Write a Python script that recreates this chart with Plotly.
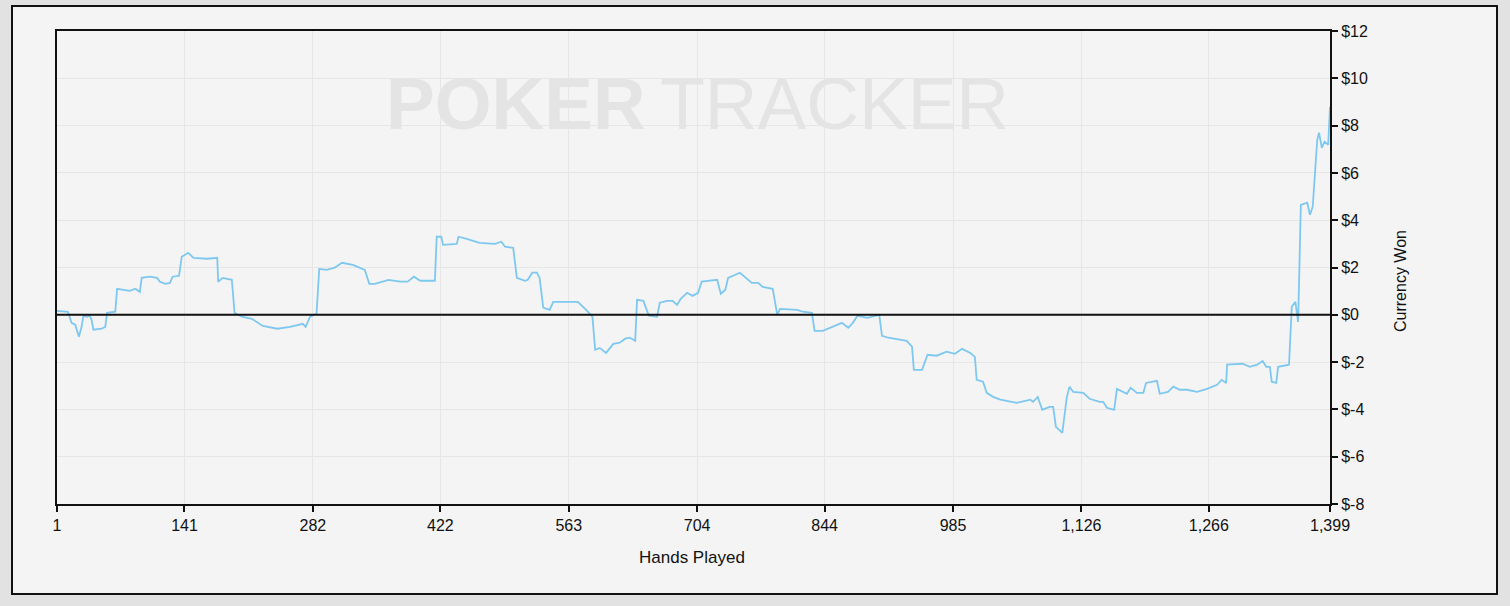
import plotly.graph_objects as go

hands = [1, 13, 17, 21, 25, 28, 30, 34, 37, 39, 41, 50, 54, 56, 65, 67, 81, 87, 92, 94,
         103, 111, 114, 120, 125, 128, 135, 138, 145, 151, 166, 177, 178, 183, 193, 196, 204, 215, 227, 243,
         257, 271, 274, 279, 286, 289, 297, 306, 314, 326, 339, 344, 350, 365, 378, 386, 393, 400, 416, 418,
         423, 425, 440, 442, 451, 465, 482, 489, 493, 502, 506, 515, 518, 523, 528, 531, 535, 542, 546, 557,
         573, 581, 589, 592, 597, 604, 612, 619, 625, 630, 636, 638, 645, 651, 660, 663, 671, 677, 682, 686,
         693, 699, 705, 709, 718, 726, 730, 735, 738, 751, 764, 771, 776, 787, 792, 795, 814, 820, 830, 833,
         842, 853, 863, 870, 875, 880, 891, 904, 907, 914, 934, 940, 942, 951, 957, 967, 978, 987, 995, 1004,
         1009, 1011, 1018, 1022, 1029, 1037, 1055, 1070, 1073, 1078, 1083, 1091, 1095, 1098, 1105, 1110, 1113, 1117, 1128, 1135,
         1146, 1150, 1154, 1162, 1165, 1176, 1180, 1187, 1194, 1197, 1209, 1212, 1221, 1227, 1234, 1242, 1253, 1264, 1275, 1280,
         1285, 1286, 1303, 1311, 1319, 1325, 1329, 1333, 1335, 1340, 1342, 1354, 1357, 1361, 1364, 1367, 1374, 1377, 1380, 1385,
         1387, 1390, 1393, 1397, 1399]

won = [0.17, 0.13, -0.34, -0.42, -0.93, -0.51, -0.04, -0.08, -0.04, -0.21, -0.63, -0.59, -0.51, 0.08, 0.13, 1.10, 1.01, 1.10, 0.97, 1.56,
       1.61, 1.56, 1.40, 1.31, 1.35, 1.61, 1.65, 2.45, 2.62, 2.41, 2.37, 2.41, 1.40, 1.56, 1.48, 0.08, -0.08, -0.17, -0.47, -0.59,
       -0.51, -0.38, -0.51, -0.08, 0.04, 1.94, 1.90, 1.99, 2.20, 2.11, 1.90, 1.31, 1.31, 1.48, 1.40, 1.40, 1.61, 1.44, 1.44, 3.30,
       3.30, 2.96, 3.00, 3.30, 3.21, 3.04, 3.00, 3.09, 2.88, 2.83, 1.56, 1.44, 1.48, 1.78, 1.78, 1.56, 0.30, 0.21, 0.55, 0.55,
       0.55, 0.25, -0.08, -1.48, -1.40, -1.61, -1.23, -1.18, -1.01, -0.97, -1.10, 0.63, 0.59, -0.04, -0.08, 0.51, 0.59, 0.59, 0.42, 0.68,
       0.93, 0.80, 0.93, 1.40, 1.44, 1.48, 0.89, 1.06, 1.56, 1.78, 1.35, 1.35, 1.18, 1.10, 0.00, 0.25, 0.21, 0.13, 0.08, -0.68,
       -0.68, -0.51, -0.34, -0.55, -0.34, -0.04, -0.13, 0.00, -0.89, -0.97, -1.10, -1.35, -2.33, -2.33, -1.69, -1.73, -1.56, -1.65, -1.44, -1.61,
       -1.78, -2.75, -2.83, -3.30, -3.47, -3.59, -3.72, -3.59, -3.68, -3.47, -4.02, -3.89, -3.89, -4.74, -4.99, -3.47, -3.04, -3.26, -3.30, -3.55,
       -3.68, -3.68, -3.93, -4.02, -3.13, -3.34, -3.09, -3.30, -3.30, -2.88, -2.79, -3.34, -3.26, -3.04, -3.17, -3.17, -3.26, -3.13, -2.96, -2.75,
       -2.88, -2.11, -2.07, -2.20, -2.11, -1.95, -2.20, -2.20, -2.83, -2.88, -2.20, -2.11, 0.34, 0.55, -0.30, 4.65, 4.74, 4.23, 4.57, 7.40,
       7.70, 7.06, 7.32, 7.19, 8.80]

x_ticks = [1, 141, 282, 422, 563, 704, 844, 985, 1126, 1266, 1399]
x_tick_labels = ["1", "141", "282", "422", "563", "704", "844", "985", "1,126", "1,266", "1,399"]
y_ticks = [-8, -6, -4, -2, 0, 2, 4, 6, 8, 10, 12]
y_tick_labels = ["$-8", "$-6", "$-4", "$-2", "$0", "$2", "$4", "$6", "$8", "$10", "$12"]

FONT = "Liberation Sans"
W, H = 1510, 606
L, R, T, B = 57, 1330, 31, 504


def px(xp):
    return (xp - L) / (R - L)


def py(yp):
    return (B - yp) / (B - T)


fig = go.Figure()
fig.add_trace(go.Scatter(x=hands, y=won, mode="lines",
                         line=dict(color="#7ec8f0", width=1.8), hoverinfo="skip",
                         showlegend=False))

axis_common = dict(showgrid=True, gridcolor="#e6e6e6", gridwidth=1.2,
                   showline=True, mirror=True, linecolor="#111111", linewidth=2,
                   ticks="outside", ticklen=6, tickwidth=1.5, tickcolor="#111111",
                   tickfont=dict(family=FONT, size=16, color="#111111"),
                   zeroline=False)

fig.update_layout(
    width=W, height=H,
    margin=dict(l=L, r=W - R, t=T, b=H - B, pad=0),
    paper_bgcolor="#e2e2e2",
    plot_bgcolor="rgba(0,0,0,0)",
    xaxis=dict(range=[1, 1399], tickmode="array", tickvals=x_ticks, ticktext=x_tick_labels,
               **axis_common),
    yaxis=dict(range=[-8, 12], side="right", tickmode="array", tickvals=y_ticks,
               ticktext=y_tick_labels, **axis_common),
    shapes=[
        dict(type="rect", xref="paper", yref="paper", layer="below",
             x0=px(12), x1=px(1497), y0=py(594), y1=py(6),
             fillcolor="#f4f4f4", line=dict(color="#111111", width=2)),
        dict(type="line", xref="paper", yref="y", layer="above",
             x0=0, x1=1, y0=0, y1=0, line=dict(color="#111111", width=2)),
    ],
    annotations=[
        dict(text="<b>POKER</b>\u2009TRACKER", xref="paper", yref="paper",
             x=px(697), y=py(104), xanchor="center", yanchor="middle", showarrow=False,
             font=dict(family=FONT, size=73, color="#e4e4e4")),
        dict(text="Hands Played", xref="paper", yref="paper",
             x=px(692), y=py(557), xanchor="center", yanchor="middle", showarrow=False,
             font=dict(family=FONT, size=17, color="#111111")),
        dict(text="Currency Won", xref="paper", yref="paper", textangle=-90,
             x=px(1400), y=py(281), xanchor="center", yanchor="middle", showarrow=False,
             font=dict(family=FONT, size=16, color="#111111")),
    ],
)

fig.write_html("out.html", config={"displayModeBar": False},
               post_script="document.body.style.margin='0';document.body.style.background='#e2e2e2';")
